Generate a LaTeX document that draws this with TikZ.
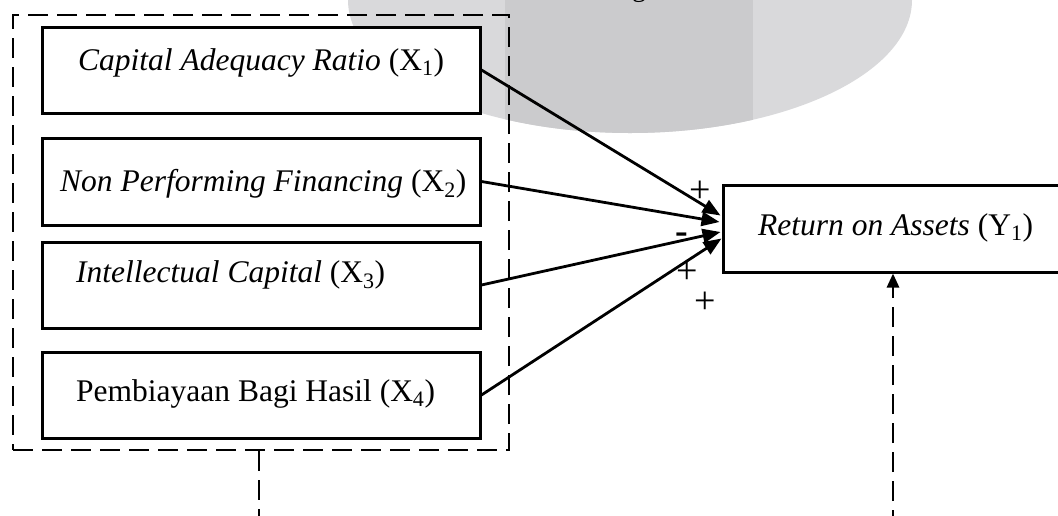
\documentclass[tikz,border=0pt]{standalone}
\usepackage{fontspec}
\setmainfont{Liberation Serif}
\usetikzlibrary{arrows.meta,calc}
\definecolor{shieldlight}{RGB}{217,217,219}
\definecolor{shielddark}{RGB}{203,203,205}
\newcommand{\subx}[1]{\textsubscript{#1}}
\begin{document}
\begin{tikzpicture}[x=1pt,y=-1pt,
  varbox/.style={draw=black,line width=3pt,fill=white,inner sep=0pt},
  lbl/.style={inner sep=0pt,anchor=base west,font=\fontsize{31.5}{36}\selectfont},
  sign/.style={inner sep=0pt,font=\fontsize{38}{40}\selectfont},
  arr/.style={line width=2.8pt,-{Triangle[length=18pt,width=14pt]}},
  dashline/.style={line width=2.8pt,dash pattern=on 20pt off 9pt}]
\useasboundingbox (0,0) rectangle (1058,515);
% watermark
\begin{scope}
  \clip (630,0) ellipse [x radius=282, y radius=133];
  \fill[shieldlight] (340,-140) rectangle (920,140);
  \fill[shielddark] (505,-140) rectangle (753,140);
\end{scope}
\node[inner sep=0pt,anchor=base,font=\fontsize{28}{32}\selectfont] (gtxt) at (639,-4) {g};
% group box
\node[draw=black,dashline,inner sep=0pt,minimum width=496pt,minimum height=435pt] (grp) at (261,232.5) {};
% variable boxes
\node[varbox,minimum width=438pt,minimum height=86pt] (b1) at (261,70) {};
\node[varbox,minimum width=438pt,minimum height=87pt] (b2) at (261,181.5) {};
\node[varbox,minimum width=438pt,minimum height=86pt] (b3) at (261,285) {};
\node[varbox,minimum width=438pt,minimum height=86pt] (b4) at (261,395) {};
\node[varbox,minimum width=345pt,minimum height=87pt] (yb) at (895.5,228.5) {};
% texts
\node[lbl] (t1) at (78,70) {\textit{Capital Adequacy Ratio} (X\subx{1})};
\node[lbl] (t2) at (60,191) {\textit{Non Performing Financing} (X\subx{2})};
\node[lbl] (t3) at (76,282) {\textit{Intellectual Capital} (X\subx{3})};
\node[lbl] (t4) at (76,401) {Pembiayaan Bagi Hasil (X\subx{4})};
\node[lbl] (ty) at (758,235) {\textit{Return on Assets} (Y\subx{1})};
% arrow targets
\coordinate (e1) at ($(yb.west)+(-1,-13)$);
\coordinate (e2) at ($(yb.west)+(-2,-6.5)$);
\coordinate (e3) at ($(yb.west)+(-1,3.5)$);
\coordinate (e4) at ($(yb.west)+(0,10)$);
\draw[arr] (b1.east) -- (e1);
\draw[arr] (b2.east) -- (e2);
\draw[arr] (b3.east) -- (e3);
\draw[arr] (b4.east) -- (e4);
% signs
\node[sign] (s1) at (700,192) {+};
\node[sign] (s2) at (682,238) {\textbf{-}};
\node[sign] (s3) at (687,273) {+};
\node[sign] (s4) at (705,303) {+};
% dashed connectors
\coordinate (lb) at (259,530);
\coordinate (rb) at (893,530);
\draw[dashline] (grp.south -| lb) -- (lb);
\draw[dashline,-{Triangle[length=14pt,width=12pt]}] (rb) -- (yb.south -| rb);
\end{tikzpicture}
\end{document}
